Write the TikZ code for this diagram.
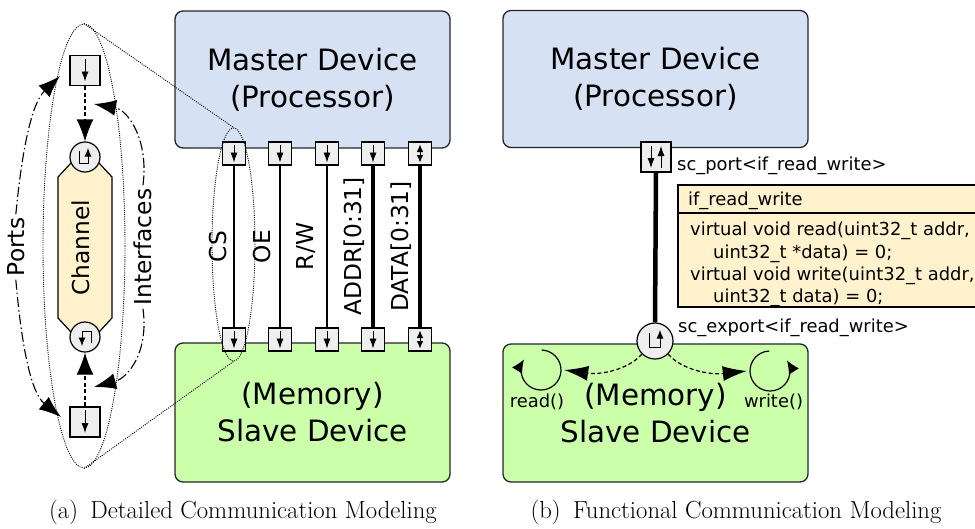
\documentclass[tikz,border=0pt]{standalone}
\usepackage{fontspec}
\newfontfamily\dv{DejaVu Sans}
\usetikzlibrary{shapes.geometric,arrows.meta,calc}
\definecolor{mblue}{RGB}{214,225,243}
\definecolor{sgreen}{RGB}{204,255,170}
\definecolor{pgray}{RGB}{238,238,238}
\definecolor{chyel}{RGB}{255,242,204}
\newcommand\fBig{\dv\fontsize{29.4pt}{37pt}\selectfont}
\newcommand\fMid{\dv\fontsize{23.3pt}{28pt}\selectfont}
\newcommand\fSm{\dv\fontsize{17.9pt}{22pt}\selectfont}
\newcommand\fCap{\fontsize{24.7pt}{30pt}\selectfont}
\tikzset{
  devbox/.style={draw=black!85, line width=1.3pt, rounded corners=8pt, align=center, font=\fBig, inner sep=0pt},
  master/.style={devbox, fill=mblue, minimum height=137pt},
  slave/.style={devbox, fill=sgreen, minimum height=139pt},
  psq/.style={draw, line width=1.1pt, fill=pgray, minimum size=23pt, inner sep=0pt},
  bsq/.style={draw, line width=1.3pt, fill=pgray, minimum size=30pt, inner sep=0pt},
  ifc/.style={circle, draw, line width=1.2pt, fill=pgray, inner sep=0pt},
  lbl/.style={font=\fMid, rotate=90, anchor=mid},
  sig/.style={line width=1.2pt},
  bus/.style={line width=4.5pt},
  sym/.style={line width=0.9pt, arrows={-Latex[length=10pt,width=7pt]}},
  symboth/.style={line width=0.9pt, arrows={Latex[length=7.5pt,width=6.5pt]-Latex[length=7.5pt,width=6.5pt]}},
  symc/.style={line width=0.9pt, arrows={-Latex[length=8.5pt,width=7pt]}},
  dasharr/.style={line width=1.2pt, dash pattern=on 4pt off 2.5pt, arrows={-Latex[length=22pt,width=17pt]}},
  fdasharr/.style={line width=1.2pt, dash pattern=on 4pt off 2.5pt, arrows={-Latex[length=24pt,width=15pt]}},
  ddarr/.style={line width=1.1pt, dash pattern=on 10pt off 3pt on 1.5pt off 3pt, arrows={-Latex[length=22pt,width=16pt]}},
  dotline/.style={line width=0.9pt, dash pattern=on 1pt off 1.2pt},
  looparr/.style={line width=1.2pt, arrows={-Latex[length=13pt,width=12pt]}},
  small/.style={font=\fSm, inner sep=0pt}
}
\begin{document}
\begin{tikzpicture}[x=1pt,y=-1pt]
\useasboundingbox (0,0) rectangle (975,528);

% ===================== (a) =====================
\node[master, minimum width=275pt] (mA) at (312.5,79.5) {Master Device\\(Processor)};
\node[slave, minimum width=275pt] (sA) at (312.5,412.5) {(Memory)\\Slave Device};

\foreach \i/\x in {1/234,2/280,3/327,4/373,5/420}{
  \node[psq] (t\i) at (\x,153.5) {};
  \node[psq] (b\i) at (\x,339.5) {};
}
\foreach \i in {1,2,3}{\draw[sig] (t\i.south) -- (b\i.north);}
\foreach \i in {4,5}{\draw[bus] (t\i.south) -- (b\i.north);}
\foreach \i in {1,2,3,4}{
  \draw[sym] ($(t\i)+(0,-9)$) -- ($(t\i)+(0,9)$);
  \draw[sym] ($(b\i)+(0,-9)$) -- ($(b\i)+(0,9)$);
}
\draw[symboth] ($(t5)+(0,-9)$) -- ($(t5)+(0,9)$);
\draw[symboth] ($(b5)+(0,-9)$) -- ($(b5)+(0,9)$);

\node[lbl] (lcs) at (224,246.5) {CS};
\node[lbl] (loe) at (268,246.5) {OE};
\node[lbl] (lrw) at (311,246.5) {R/W};
\node[lbl] (lad) at (359,246.5) {ADDR[0:31]};
\node[lbl] (lda) at (406,246.5) {DATA[0:31]};

% channel
\draw[line width=1.2pt, fill=chyel] (58,177) -- (71,163) -- (99,163) -- (112,177) -- (112,318) -- (99,332) -- (71,332) -- (58,318) -- cycle;
\node[lbl] (chl) at (87,247.5) {Channel};
\node[ifc, minimum size=30pt] (c1) at (85,157) {};
\node[ifc, minimum size=30pt] (c2) at (85,337) {};
\draw[symc] ($(c1)+(-6,-6)$) -- ($(c1)+(-6,6)$) -- ($(c1)+(3,6)$) -- ($(c1)+(3,-9)$);
\draw[symc] ($(c2)+(6,6)$) -- ($(c2)+(6,-6)$) -- ($(c2)+(-3,-6)$) -- ($(c2)+(-3,9)$);

\node[bsq] (q1) at (85,70.5) {};
\node[bsq] (q2) at (85,422) {};
\draw[sym] ($(q1)+(0,-12)$) -- ($(q1)+(0,11)$);
\draw[sym] ($(q2)+(0,-12)$) -- ($(q2)+(0,11)$);
\draw[dasharr] (q1.south) -- (c1.north);
\draw[dasharr] (q2.north) -- (c2.south);

% Ports / Interfaces
\node[lbl] (ports) at (22,247) {Ports};
\coordinate (pT) at (60,76);
\coordinate (pB) at (61,417);
\draw[ddarr] (ports.east) .. controls (21,160) and (30,105) .. (pT);
\draw[ddarr] (ports.west) .. controls (21,340) and (30,392) .. (pB);

\node[lbl] (intf) at (149.5,247) {Interfaces};
\coordinate (iT) at (94,104);
\coordinate (iB) at (94,387);
\draw[ddarr] (intf.east) .. controls (149,140) and (128,110) .. (iT);
\draw[ddarr] (intf.west) .. controls (149,352) and (128,378) .. (iB);

% ellipses
\node[ellipse, draw, dotline, minimum width=82pt, minimum height=444pt, inner sep=0pt] (bigE) at (84,246) {};
\node[ellipse, draw, dotline, minimum width=43pt, minimum height=233pt, inner sep=0pt] (smE) at (233.5,244.5) {};
\draw[dotline] (bigE.north) -- (smE.north);
\draw[dotline] (bigE.south) -- (smE.south);

% ===================== (b) =====================
\node[master, minimum width=305pt] (mB) at (655.5,79) {Master Device\\(Processor)};
\node[slave, minimum width=305pt, minimum height=138pt] (sB) at (655.5,413) {(Memory)\\Slave Device};

\node[bsq] (pq) at (656,157) {};
\node[ifc, minimum size=36pt] (ec) at (655,341) {};
\draw[bus] (pq.south) -- (ec.north);
\draw[sym] ($(pq)+(-5,-11)$) -- ($(pq)+(-5,11)$);
\draw[sym] ($(pq)+(5,11)$) -- ($(pq)+(5,-11)$);
\draw[symc] ($(ec)+(-6,-8)$) -- ($(ec)+(-6,6)$) -- ($(ec)+(5,6)$) -- ($(ec)+(5,-11)$);

\node[small, anchor=base west] (scp) at (677,170) {sc\_port<if\_read\_write>};
\node[small, anchor=base west] (scx) at (678,332) {sc\_export<if\_read\_write>};

\begin{scope}
\clip (0,0) rectangle (975,528);
\draw[line width=1.2pt, fill=chyel] (678,185) rectangle (995,307);
\draw[line width=1.2pt] (678,213) -- (995,213);
\end{scope}
\node[small, anchor=base west] (ifh) at (688,205) {if\_read\_write};
\node[small, anchor=base west] (if1) at (690,235) {virtual void read(uint32\_t addr,};
\node[small, anchor=base west] (if2) at (713,258) {uint32\_t *data) = 0;};
\node[small, anchor=base west] (if3) at (690,280) {virtual void write(uint32\_t addr,};
\node[small, anchor=base west] (if4) at (713,302) {uint32\_t data) = 0;};

% loops
\node[circle, minimum size=40pt, inner sep=0pt] (rl) at (541,370) {};
\node[circle, minimum size=40pt, inner sep=0pt] (wl) at (770,371) {};
\begin{scope}[shift={(rl.center)}, yscale=-1]
  \draw[looparr] (88:20) arc[start angle=88, end angle=-212, radius=20];
\end{scope}
\begin{scope}[shift={(wl.center)}, yscale=-1]
  \draw[looparr] (92:20) arc[start angle=92, end angle=392, radius=20];
\end{scope}
\node[small, anchor=base] (rd) at (537,407) {read()};
\node[small, anchor=base] (wr) at (773.5,407) {write()};
\draw[fdasharr] (ec.south west) .. controls (628,370) and (600,375) .. ([xshift=3pt]rl.east);
\draw[fdasharr] (ec.south east) .. controls (682,370) and (710,375) .. ([xshift=-3pt]wl.west);

% captions
\node[font=\fCap, anchor=base] (capA) at (243,518) {(a)\hspace{0.5em}Detailed Communication Modeling};
\node[font=\fCap, anchor=base] (capB) at (736,518) {(b)\hspace{0.5em}Functional Communication Modeling};
\end{tikzpicture}
\end{document}
